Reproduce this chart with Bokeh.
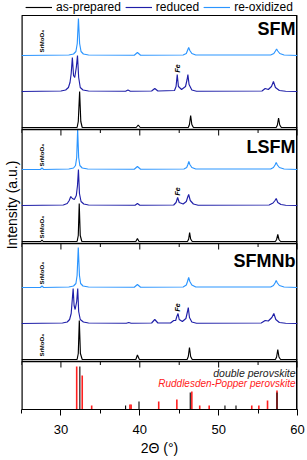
import math
from bokeh.plotting import figure
from bokeh.models import (Range1d, Label, Legend, LegendItem, SingleIntervalTicker, FixedTicker, Span)
from bokeh.embed import file_html
from bokeh.resources import INLINE

FONT = "Liberation Sans"
C_ASPREP = "#000000"
C_REDUCED = "#1f1fa8"
C_REOX = "#2b95ff"
C_RP = "#ff2020"

# ---------------- data: (2theta, intensity a.u.) ----------------
sfm_asprep = [(25, 0), (32.05, 0), (32.2, 6), (32.37, 36), (32.52, 6), (32.7, 0), (39.55, 0), (39.8, 2.5), (40.05, 0),
              (46.15, 0), (46.3, 3), (46.45, 12), (46.6, 3), (46.8, 0), (57.3, 0), (57.45, 2.5), (57.6, 9.5),
              (57.75, 2.5), (57.95, 0), (60, 0)]
sfm_reduced = [(25, 0), (30.0, 0.5), (30.6, 1.5), (30.95, 4), (31.15, 9), (31.3, 18), (31.45, 34), (31.6, 16),
               (31.75, 14), (31.95, 24), (32.1, 36), (32.25, 14), (32.45, 4), (32.8, 1.5), (33.5, 0.5), (38.2, 0.3),
               (38.5, 1.5), (38.8, 0.3), (41.5, 0.5), (41.9, 3), (42.3, 0.5), (44.4, 1), (44.6, 5), (44.75, 17),
               (44.9, 5), (45.3, 2), (45.8, 5), (46.0, 12), (46.1, 17), (46.25, 7), (46.6, 1.5), (47.2, 0.3),
               (55.5, 0.5), (55.9, 3), (56.3, 2), (56.7, 5), (56.95, 10), (57.2, 4), (57.7, 1), (58.5, 0.3), (60, 0)]
sfm_reox = [(25, 0), (31.0, 0.5), (31.6, 1.5), (31.9, 4), (32.07, 12), (32.22, 37), (32.37, 12), (32.55, 4),
            (32.85, 1.5), (33.5, 0.5), (39.3, 0.3), (39.7, 3), (40.1, 0.3), (45.5, 0.5), (45.9, 2), (46.05, 5),
            (46.2, 8), (46.35, 5), (46.6, 2), (47.1, 0.5), (56.6, 0.5), (57.0, 2), (57.2, 4.5), (57.35, 6.5),
            (57.5, 4.5), (57.75, 2), (58.3, 0.5), (60, 0)]

lsfm_asprep = [(25, 0), (27.45, 0), (27.6, 1.5), (27.75, 0), (32.05, 0), (32.2, 6), (32.32, 38), (32.45, 6),
               (32.65, 0), (39.5, 0), (39.7, 3), (39.9, 0), (46.05, 0), (46.2, 2.5), (46.32, 9), (46.45, 2.5),
               (46.65, 0), (57.2, 0), (57.35, 2), (57.5, 7), (57.65, 2), (57.85, 0), (60, 0)]
lsfm_reduced = [(25, 0), (30.3, 0.5), (30.8, 2), (31.05, 5), (31.25, 9), (31.45, 7), (31.7, 6), (31.95, 10),
                (32.1, 20), (32.22, 36), (32.35, 12), (32.55, 4), (32.9, 1.5), (33.5, 0.5), (39.4, 0.3), (39.7, 2),
                (40.0, 0.3), (44.3, 0.5), (44.6, 3), (44.8, 8), (45.0, 3), (45.5, 1.5), (45.9, 4), (46.1, 9),
                (46.2, 11), (46.4, 5), (46.8, 1.5), (47.4, 0.3), (56.4, 0.5), (56.9, 2.5), (57.15, 5), (57.3, 7),
                (57.5, 3), (57.9, 1), (58.5, 0.3), (60, 0)]
lsfm_reox = [(25, 0), (27.4, 0), (27.6, 1.5), (27.8, 0), (31.0, 0.5), (31.6, 1.5), (31.85, 4), (32.0, 12),
             (32.12, 40), (32.25, 12), (32.4, 4), (32.7, 1.5), (33.4, 0.5), (39.3, 0.3), (39.7, 3), (40.1, 0.3),
             (45.6, 0.5), (45.95, 2), (46.1, 5), (46.22, 8), (46.35, 5), (46.6, 2), (47.1, 0.5), (56.6, 0.5),
             (56.95, 2), (57.15, 4.5), (57.3, 7), (57.45, 4.5), (57.7, 2), (58.3, 0.5), (60, 0)]

sfmnb_asprep = [(25, 0), (32.05, 0), (32.2, 6), (32.33, 39), (32.47, 6), (32.7, 0), (39.5, 0), (39.7, 4.5),
                (39.95, 0), (46.0, 0), (46.15, 3), (46.3, 12), (46.45, 3), (46.65, 0), (57.2, 0), (57.35, 2.5),
                (57.5, 10), (57.65, 2.5), (57.85, 0), (60, 0)]
sfmnb_reduced = [(25, 0), (30.2, 0.5), (30.8, 1.5), (31.1, 4), (31.3, 10), (31.45, 25), (31.55, 35), (31.67, 18),
                 (31.8, 14), (32.0, 22), (32.13, 35), (32.25, 12), (32.45, 4), (32.85, 1.5), (33.5, 0.5),
                 (38.3, 0.3), (38.6, 1), (38.9, 0.3), (41.5, 0.5), (41.9, 4), (42.3, 0.5), (43.9, 0.5), (44.3, 3),
                 (44.55, 3), (44.7, 7), (44.85, 10), (45.0, 4), (45.4, 2), (45.85, 5), (46.05, 12), (46.15, 16),
                 (46.3, 6), (46.6, 1.5), (47.2, 0.3), (55.4, 0.5), (55.9, 3), (56.3, 2.5), (56.75, 6), (57.0, 10),
                 (57.25, 4), (57.7, 1), (58.5, 0.3), (60, 0)]
sfmnb_reox = [(25, 0), (27.4, 0), (27.6, 1.5), (27.8, 0), (31.0, 0.5), (31.6, 1.5), (31.9, 4), (32.05, 12),
              (32.2, 40), (32.35, 12), (32.5, 4), (32.8, 1.5), (33.5, 0.5), (39.3, 0.3), (39.7, 3), (40.1, 0.3),
              (45.5, 0.5), (45.9, 2.5), (46.05, 6), (46.2, 10), (46.35, 6), (46.6, 2.5), (47.1, 0.5), (56.6, 0.5),
              (56.95, 2), (57.15, 4.5), (57.3, 7), (57.45, 4.5), (57.7, 2), (58.3, 0.5), (60, 0)]

# reference patterns (stick positions / relative intensities)
dp_pos = [32.4, 38.2, 39.9, 46.4, 50.8, 52.2, 57.4]
dp_int = [43, 4, 8, 17, 4, 4, 17]
rp_pos = [32.0, 32.7, 33.9, 38.75, 38.9, 42.4, 44.7, 46.6, 47.6, 48.8, 54.2, 55.1, 56.2, 57.4]
rp_int = [43, 34, 4, 5, 5, 8, 10, 18, 4, 4, 4, 4, 9, 19]

series_names = ["as-prepared", "reduced", "re-oxidized"]
series_colors = [C_ASPREP, C_REDUCED, C_REOX]
panel_names = ["SFM", "LSFM", "SFMNb"]
panel_data = [[sfm_asprep, sfm_reduced, sfm_reox],
              [lsfm_asprep, lsfm_reduced, lsfm_reox],
              [sfmnb_asprep, sfmnb_reduced, sfmnb_reox]]
fe_peak = [17, 8, 10]              # reduced-curve height of the Fe peak in each panel
srmoo4_on = [[2], [0, 2], [0, 2]]  # which curves carry the SrMoO4 mark
major_ticks = [30, 40, 50, 60]
minor_ticks = [25, 35, 45, 55]

# ---------------- layout (vertical stacking of the panels, in plot units = pixels) ----------------
X_MIN, X_MAX = 25, 60
BOX_TOP = 394                       # top of the boxed area; legend strip lies above it
Y_MAX = 409
panel_bottoms = [280, 166, 48]      # SFM, LSFM, SFMNb; reference sticks occupy 0..48
panel_tops = [394, 280, 166]
offsets = [2, 38, 74]               # as-prepared, reduced, re-oxidized baselines within a panel

p = figure(width=307, height=460, x_range=Range1d(X_MIN, X_MAX), y_range=Range1d(0, Y_MAX),
           toolbar_location=None, output_backend="svg", min_border_left=0, min_border_right=10,
           min_border_top=0, min_border_bottom=51)
p.grid.visible = False
p.outline_line_color = None
p.background_fill_color = "white"

# y axis: title only
p.yaxis.ticker = FixedTicker(ticks=[])
p.yaxis.axis_line_color = None
p.yaxis.major_tick_line_color = None
p.yaxis.minor_tick_line_color = None
p.yaxis.axis_label = "Intensity (a.u.)"
p.yaxis.axis_label_standoff = 2
p.yaxis.axis_label_text_font = FONT
p.yaxis.axis_label_text_font_size = "14px"
p.yaxis.axis_label_text_font_style = "normal"
p.yaxis.axis_label_text_color = "black"

# x axis
p.xaxis.ticker = SingleIntervalTicker(interval=10, num_minor_ticks=2)
p.xaxis.major_tick_out = 6
p.xaxis.major_tick_in = 0
p.xaxis.minor_tick_out = 4
p.xaxis.minor_tick_in = 0
p.xaxis.major_label_text_font = FONT
p.xaxis.major_label_text_font_size = "13px"
p.xaxis.major_label_standoff = 9
p.xaxis.major_label_text_color = "black"
p.xaxis.axis_label = "2Θ (°)"
p.xaxis.axis_label_text_font = FONT
p.xaxis.axis_label_text_font_size = "14px"
p.xaxis.axis_label_text_font_style = "normal"
p.xaxis.axis_label_text_color = "black"
p.xaxis.axis_label_standoff = 3
p.xaxis.axis_line_color = "black"

# box: top edge and the two side edges
p.add_layout(Span(location=BOX_TOP, dimension="width", line_color="black", line_width=1.2))
p.segment(x0=[X_MIN, X_MAX], y0=[0, 0], x1=[X_MIN, X_MAX], y1=[BOX_TOP, BOX_TOP], line_color="black",
          line_width=[2.4, 3.0])

legend_renderers = []
for i, (name, curves) in enumerate(zip(panel_names, panel_data)):
    base = panel_bottoms[i]
    for j, (pts, col) in enumerate(zip(curves, series_colors)):
        xs = [a for a, b in pts]
        ys = [b + base + offsets[j] for a, b in pts]
        r = p.line(xs, ys, line_color=col, line_width=1.15)
        if i == 0:
            legend_renderers.append(r)
    p.add_layout(Label(x=59.75, y=panel_tops[i] - (13 if i == 0 else 17), text=name, text_align="right",
                       text_baseline="middle", text_font=FONT, text_font_size="18px", text_font_style="bold",
                       text_color="black"))
    p.add_layout(Label(x=44.78, y=base + offsets[1] + fe_peak[i] + 2, text="Fe", angle=math.pi / 2,
                       text_align="left", text_baseline="middle", text_font=FONT, text_font_size="7px",
                       text_font_style="bold italic", text_color="black"))
    for j in srmoo4_on[i]:
        p.add_layout(Label(x=27.65, y=base + offsets[j] + 3, text="SrMoO₄", angle=math.pi / 2, text_align="left",
                           text_baseline="middle", text_font=FONT, text_font_size="6px",
                           text_font_style="bold", text_color="black"))

# panel separators with their tick marks (pointing down into the panel below)
for sep in panel_bottoms:
    p.add_layout(Span(location=sep, dimension="width", line_color="black", line_width=1.6))
    p.segment(x0=major_ticks, y0=[sep] * len(major_ticks), x1=major_ticks,
              y1=[sep - 6] * len(major_ticks), line_color="black", line_width=1)
    p.segment(x0=minor_ticks, y0=[sep] * len(minor_ticks), x1=minor_ticks,
              y1=[sep - 3.5] * len(minor_ticks), line_color="black", line_width=1)

# reference sticks
p.segment(x0=rp_pos, y0=[0] * len(rp_pos), x1=rp_pos, y1=rp_int, line_color=C_RP, line_width=1.6)
p.segment(x0=dp_pos, y0=[0] * len(dp_pos), x1=dp_pos, y1=dp_int, line_color="black", line_width=1.1)
p.add_layout(Label(x=59.75, y=37, text="double perovskite", text_align="right", text_baseline="middle",
                   text_font=FONT, text_font_size="10.5px", text_font_style="italic", text_color="#222222"))
p.add_layout(Label(x=59.75, y=26.5, text="Ruddlesden-Popper perovskite", text_align="right",
                   text_baseline="middle", text_font=FONT, text_font_size="10px", text_font_style="italic",
                   text_color=C_RP))

legend = Legend(items=[LegendItem(label=n, renderers=[r]) for n, r in zip(series_names, legend_renderers)],
                orientation="horizontal", location="top_center", glyph_width=27, glyph_height=14,
                label_height=14, label_standoff=4, spacing=4, padding=0, margin=0, border_line_color=None,
                background_fill_alpha=0, label_text_font=FONT, label_text_font_size="12px",
                label_text_color="black")
p.add_layout(legend)

open("out.html", "w").write(file_html(p, INLINE))
